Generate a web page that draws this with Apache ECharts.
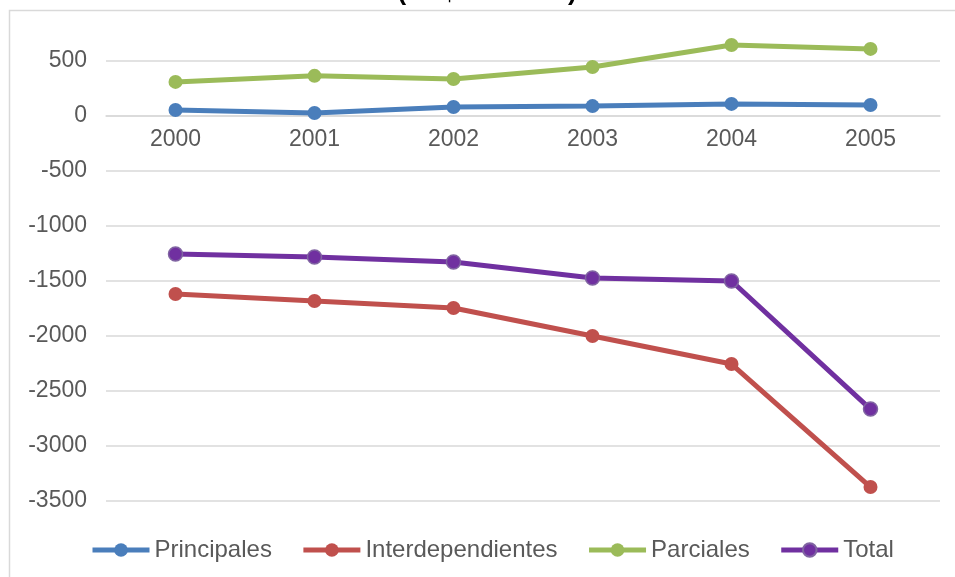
<!DOCTYPE html>
<html>
<head>
<meta charset="utf-8">
<script src="https://cdn.jsdelivr.net/npm/echarts@6/dist/echarts.min.js"></script>
<style>html,body{margin:0;padding:0;background:#fff;}#c{width:955px;height:577px;}</style>
</head>
<body>
<div id="c"></div>
<script>
const titleText = '(US$ Millones)';
const years = ['2000', '2001', '2002', '2003', '2004', '2005'];
const principales = [55, 27, 82, 90, 110, 100];
const interdependientes = [-1618, -1682, -1745, -2000, -2255, -3373];
const parciales = [310, 365, 336, 445, 645, 610];
const total = [-1255, -1282, -1327, -1473, -1500, -2664];
const seriesNames = ['Principales', 'Interdependientes', 'Parciales', 'Total'];
const colors = ['#4a7ebb', '#c0504d', '#9bbb59', '#7030a0'];

const font = '"Liberation Sans", Arial, Helvetica, sans-serif';
const chart = echarts.init(document.getElementById('c'));

function mk(name, data, color, border) {
  return {
    name: name, type: 'line', data: data, clip: false,
    symbol: 'circle', symbolSize: 14,
    lineStyle: { color: color, width: 5 },
    itemStyle: { color: color, borderColor: border || color, borderWidth: border ? 1.5 : 0 },
    emphasis: { disabled: true }
  };
}

chart.setOption({
  animation: false,
  backgroundColor: '#fff',
  color: colors,
  graphic: [
    { type: 'rect', shape: { x: 9.5, y: 10.5, width: 1000, height: 700 }, style: { fill: 'none', stroke: '#d9d9d9', lineWidth: 1.5 }, z: -10 },
    { type: 'text', x: 487, y: -7, style: { text: titleText, font: 'bold 26px ' + font, fill: '#000', align: 'center', verticalAlign: 'middle' } }
  ],
  grid: { left: 106, right: 15, top: 61, height: 440, containLabel: false },
  legend: {
    left: 85, top: 533,
    itemWidth: 57, itemHeight: 17, itemGap: 29,
    lineStyle: { width: 5 },
    textStyle: { fontSize: 24, color: '#595959', fontFamily: font },
    data: seriesNames
  },
  xAxis: {
    type: 'category', data: years, boundaryGap: true,
    offset: -385,
    axisLine: { show: true, onZero: false, lineStyle: { color: '#d9d9d9', width: 1.5 } },
    axisTick: { show: false },
    axisLabel: { fontSize: 23, color: '#595959', fontFamily: font, margin: 12 },
    splitLine: { show: false }
  },
  yAxis: {
    type: 'value', min: -3500, max: 500, interval: 500,
    axisLine: { show: false }, axisTick: { show: false },
    axisLabel: { fontSize: 23, color: '#595959', fontFamily: font, margin: 19, formatter: function (v) { return String(v); } },
    splitLine: { lineStyle: { color: '#d9d9d9', width: 1.5 } }
  },
  series: [
    mk(seriesNames[0], principales, colors[0]),
    mk(seriesNames[1], interdependientes, colors[1]),
    mk(seriesNames[2], parciales, colors[2]),
    mk(seriesNames[3], total, colors[3], '#8064a2')
  ]
});
</script>
</body>
</html>
